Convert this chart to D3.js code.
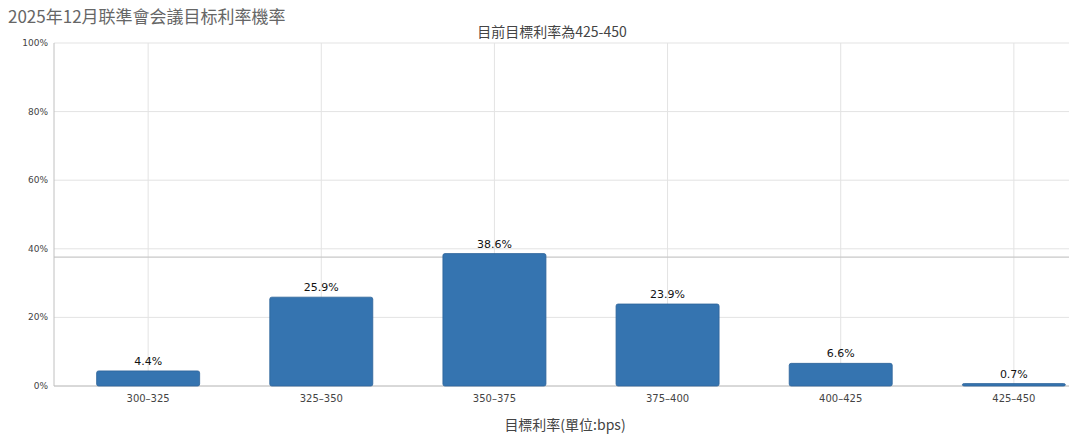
<!DOCTYPE html><html><head><meta charset="utf-8">
<script src="https://cdn.jsdelivr.net/npm/d3@7"></script>
<style>body{margin:0;background:#fff;font-family:"Noto Sans CJK TC","Open Sans",sans-serif}</style></head><body>
<svg id="c" width="1069" height="438"></svg>
<script>
const categories=["300-325","325-350","350-375","375-400","400-425","425-450"];
const values=[4.4,25.9,38.6,23.9,6.6,0.7];
const yTicks=[0,20,40,60,80,100];
const refLine=37.6;
const svg=d3.select("#c");
const L=54,R=1069,T=43,B=386;
const x=d3.scaleBand().domain(categories).range([62,1100]).paddingInner(0.405).paddingOuter(0.2);
const y=d3.scaleLinear().domain([0,100]).range([B,T]);
const g=svg.append("g");
yTicks.forEach(t=>{g.append("line").attr("x1",L).attr("x2",R).attr("y1",y(t)).attr("y2",y(t)).attr("stroke","#e3e3e3");
 g.append("text").attr("x",L-6).attr("y",y(t)+3).attr("text-anchor","end").attr("font-size",9).attr("font-family","DejaVu Sans").attr("fill","#444").text(t+"%");});
categories.forEach(c=>{const cx=x(c)+x.bandwidth()/2;
 g.append("line").attr("x1",cx).attr("x2",cx).attr("y1",T).attr("y2",B).attr("stroke","#e3e3e3");
 g.append("text").attr("x",cx).attr("y",B+16).attr("text-anchor","middle").attr("font-size",10).attr("font-family","DejaVu Sans").attr("fill","#444").text(c.replace("-","–"));});
g.append("line").attr("x1",L).attr("x2",R).attr("y1",y(refLine)).attr("y2",y(refLine)).attr("stroke","#c8c8c8").attr("stroke-width",1.3);
g.append("line").attr("x1",L).attr("x2",L).attr("y1",T).attr("y2",B).attr("stroke","#c0c0c0");
g.append("line").attr("x1",L).attr("x2",R).attr("y1",B).attr("y2",B).attr("stroke","#c0c0c0");
categories.forEach((c,i)=>{
 g.append("rect").attr("x",x(c)).attr("y",y(values[i])).attr("width",x.bandwidth()).attr("height",Math.max(B-y(values[i]),1)).attr("rx",2).attr("fill","#3574b0").attr("stroke","#2d6399").attr("stroke-width",0.8);
 g.append("text").attr("x",x(c)+x.bandwidth()/2).attr("y",y(values[i])-6).attr("text-anchor","middle").attr("font-size",11).attr("font-family","DejaVu Sans").attr("fill","#111").text(values[i].toFixed(1)+"%");});
svg.append("text").attr("x",8).attr("y",23).attr("font-size",17).attr("fill","#666").text("2025年12月联準會会議目标利率機率");
svg.append("text").attr("x",552).attr("y",37).attr("text-anchor","middle").attr("font-size",14).attr("fill","#444").text("目前目標利率為425-450");
svg.append("text").attr("x",565).attr("y",430).attr("text-anchor","middle").attr("font-size",14).attr("fill","#444").text("目標利率(單位:bps)");
</script></body></html>
